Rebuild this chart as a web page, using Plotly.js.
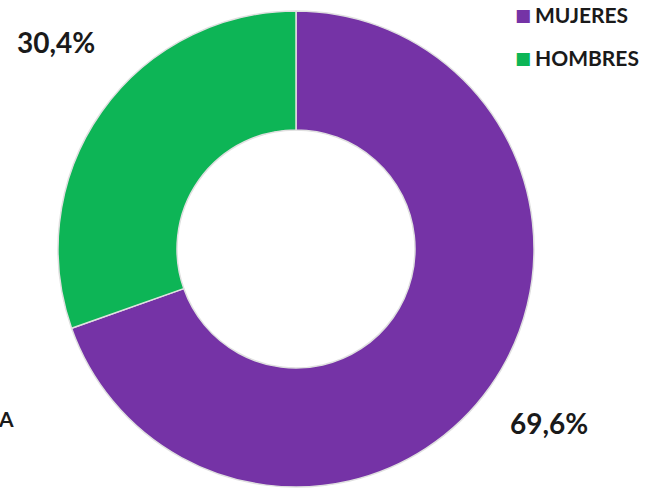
<!DOCTYPE html>
<html>
<head>
<meta charset="utf-8">
<script src="https://cdn.plot.ly/plotly-3.0.1.min.js"></script>
<style>
  html, body { margin: 0; padding: 0; background: #ffffff; }
  #chart { width: 646px; height: 489px; }
</style>
</head>
<body>
<div id="chart"></div>
<script>
const labels = ['MUJERES', 'HOMBRES'];
const values = [69.6, 30.4];
const colors = ['#7533A6', '#0DB556'];
const clippedLabel = 'A';

const W = 646, H = 489;
const px = x => x / W;
const py = y => 1 - y / H;
const fmt = v => v.toFixed(1).replace('.', ',') + '%';

const labelPos = [[549, 423], [56, 42]];
const legendY = [14.5, 57.5];

const annotations = [];
values.forEach((v, i) => {
  annotations.push({
    xref: 'paper', yref: 'paper', x: px(labelPos[i][0]), y: py(labelPos[i][1]),
    xanchor: 'center', yanchor: 'middle', showarrow: false,
    text: '<b>' + fmt(v) + '</b>',
    font: { family: 'Lato, "Open Sans", sans-serif', size: 28, color: '#1a1a1a' }
  });
});
labels.forEach((l, i) => {
  annotations.push({
    xref: 'paper', yref: 'paper', x: px(523), y: py(legendY[i] + 0.5),
    xanchor: 'center', yanchor: 'middle', showarrow: false,
    text: '■',
    font: { family: 'DejaVu Sans', size: 17, color: colors[i] }
  });
  annotations.push({
    xref: 'paper', yref: 'paper', x: px(533), y: py(legendY[i]),
    xanchor: 'left', yanchor: 'middle', showarrow: false,
    text: '<b>' + l + '</b>',
    font: { family: 'Lato, "Open Sans", sans-serif', size: 21, color: '#1a1a1a' }
  });
});
annotations.push({
  xref: 'paper', yref: 'paper', x: px(6), y: py(418),
  xanchor: 'center', yanchor: 'middle', showarrow: false,
  text: '<b>' + clippedLabel + '</b>',
  font: { family: 'Lato, "Open Sans", sans-serif', size: 21, color: '#1a1a1a' }
});

const trace = {
  type: 'pie',
  labels: labels,
  values: values,
  hole: 0.5,
  sort: false,
  direction: 'clockwise',
  rotation: 0,
  textinfo: 'none',
  hoverinfo: 'label+percent',
  marker: { colors: colors, line: { color: '#e0e0e0', width: 1.5 } },
  domain: { x: [px(58), px(534)], y: [py(487), py(11)] }
};

const layout = {
  width: W, height: H,
  margin: { l: 0, r: 0, t: 0, b: 0 },
  paper_bgcolor: '#ffffff',
  showlegend: false,
  separators: ',.',
  annotations: annotations
};

Plotly.newPlot('chart', [trace], layout, { displayModeBar: false, staticPlot: true });
</script>
</body>
</html>
